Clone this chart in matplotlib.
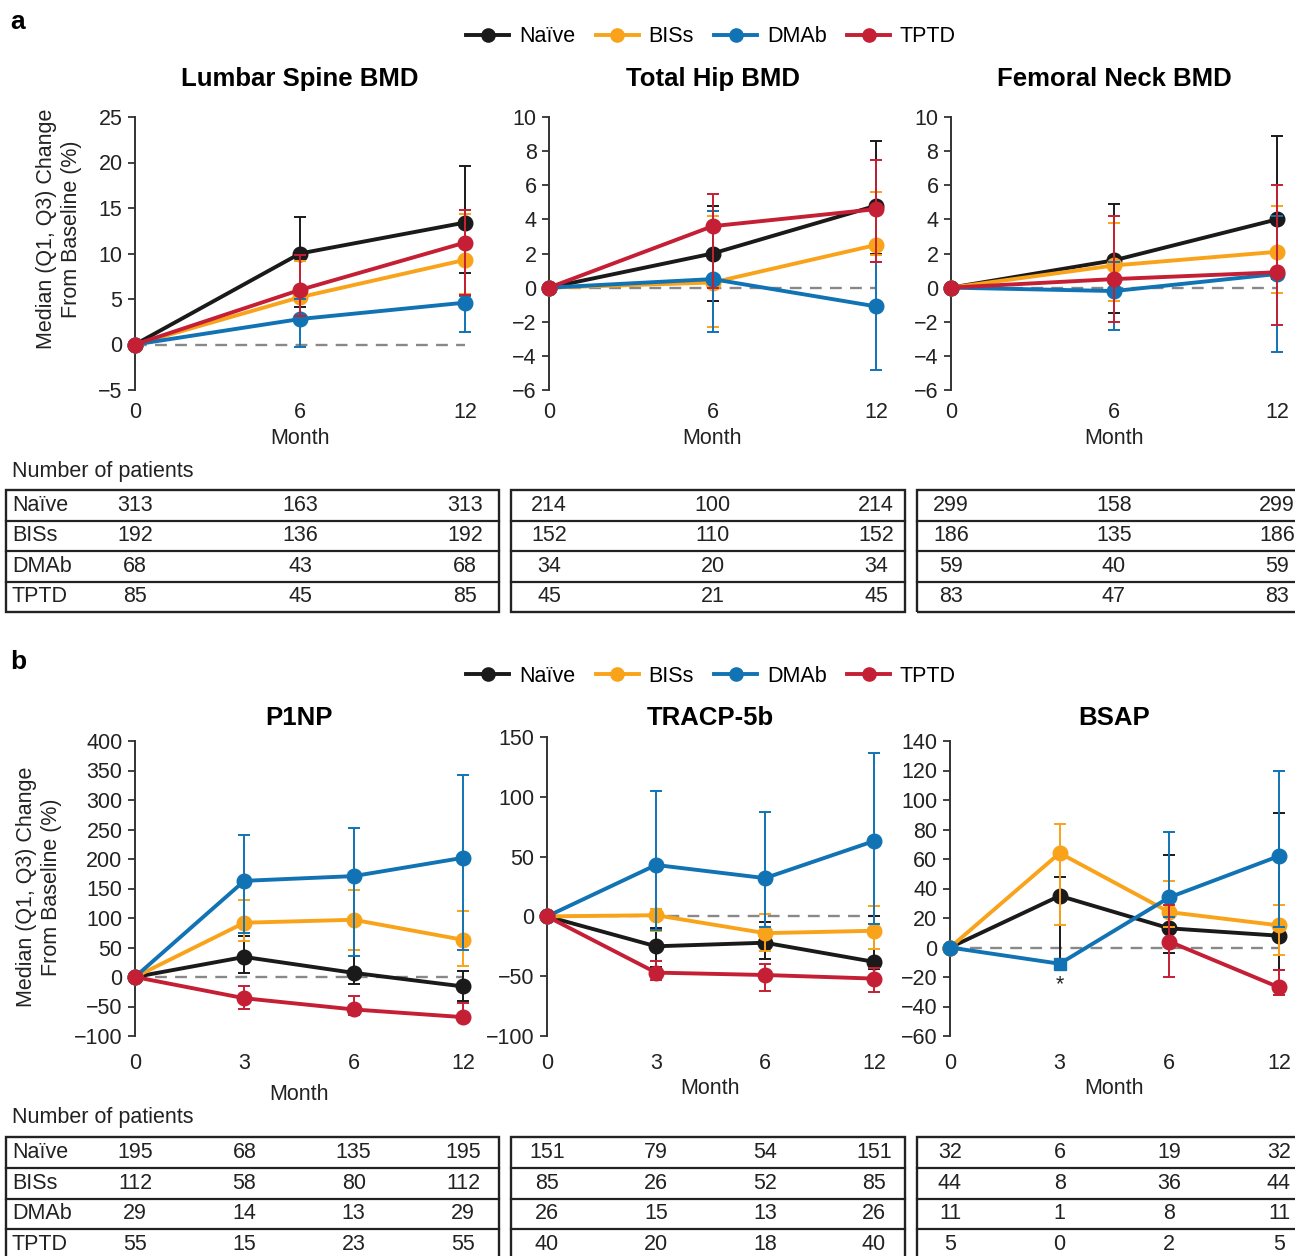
import numpy as np
import matplotlib
matplotlib.use("Agg")
import matplotlib.pyplot as plt
from matplotlib.lines import Line2D
from matplotlib.patches import Rectangle
import matplotlib.transforms as mtransforms

plt.rcParams['font.family'] = ['Liberation Sans', 'DejaVu Sans']
plt.rcParams['axes.unicode_minus'] = True

nan = np.nan

# ---------------- data ----------------
GROUPS = ["Naïve", "BISs", "DMAb", "TPTD"]
COLORS = ["#1a1a1a", "#f9a31b", "#1173b3", "#c41f34"]

BMD_MONTHS = ["0", "6", "12"]
BTM_MONTHS = ["0", "3", "6", "12"]

# Lumbar spine BMD (median, Q1, Q3), rows = groups
LS_MED = [[0, 10.0, 13.4], [0, 5.2, 9.3], [0, 2.8, 4.6], [0, 6.0, 11.2]]
LS_Q1 = [[nan, 4.1, 7.9], [nan, 3.0, 5.5], [nan, -0.3, 1.4], [nan, 3.1, 5.4]]
LS_Q3 = [[nan, 14.0, 19.6], [nan, 9.2, 14.3], [nan, 5.0, 5.3], [nan, 9.8, 14.8]]
LS_N = [[313, 163, 313], [192, 136, 192], [68, 43, 68], [85, 45, 85]]

# Total hip BMD
TH_MED = [[0, 2.0, 4.8], [0, 0.3, 2.5], [0, 0.5, -1.1], [0, 3.6, 4.6]]
TH_Q1 = [[nan, -0.8, 2.0], [nan, -2.3, 1.9], [nan, -2.6, -4.8], [nan, 0.0, 1.5]]
TH_Q3 = [[nan, 4.8, 8.6], [nan, 4.2, 5.6], [nan, 4.5, 1.5], [nan, 5.5, 7.5]]
TH_N = [[214, 100, 214], [152, 110, 152], [34, 20, 34], [45, 21, 45]]

# Femoral neck BMD
FN_MED = [[0, 1.6, 4.0], [0, 1.3, 2.1], [0, -0.2, 0.8], [0, 0.5, 0.9]]
FN_Q1 = [[nan, -1.5, 0.5], [nan, -0.8, -0.3], [nan, -2.5, -3.8], [nan, -2.0, -2.2]]
FN_Q3 = [[nan, 4.9, 8.9], [nan, 3.8, 4.8], [nan, 1.5, 4.2], [nan, 4.2, 6.0]]
FN_N = [[299, 158, 299], [186, 135, 186], [59, 40, 59], [83, 47, 83]]

# P1NP
P1_MED = [[0, 34, 7, -16], [0, 92, 97, 63], [0, 163, 171, 202], [0, -36, -55, -68]]
P1_Q1 = [[nan, 6, -12, -41], [nan, 61, 45, 19], [nan, 75, 36, 46], [nan, -55, -64, -74]]
P1_Q3 = [[nan, 69, 45, 10], [nan, 130, 147, 112], [nan, 241, 252, 343], [nan, -15, -33, -44]]
P1_N = [[195, 68, 135, 195], [112, 58, 80, 112], [29, 14, 13, 29], [55, 15, 23, 55]]

# TRACP-5b
TR_MED = [[0, -25, -22, -38], [0, 1, -14, -12], [0, 43, 32, 63], [0, -47, -49, -52]]
TR_Q1 = [[nan, -42, -36, -44], [nan, -12, -29, -27], [nan, -11, -9, -6], [nan, -53, -62, -63]]
TR_Q3 = [[nan, -10, -5, 0], [nan, 6, 2, 9], [nan, 105, 87, 137], [nan, -37, -40, -43]]
TR_N = [[151, 79, 54, 151], [85, 26, 52, 85], [26, 15, 13, 26], [40, 20, 18, 40]]

# BSAP
BS_MED = [[0, 35, 13, 8], [0, 64, 24, 15], [0, -11, 34, 62], [nan, nan, 4, -27]]
BS_Q1 = [[nan, -12, -4, -15], [nan, 15, 14, -5], [nan, nan, 21, 14], [nan, nan, -20, -32]]
BS_Q3 = [[nan, 48, 63, 91], [nan, 84, 45, 29], [nan, nan, 78, 120], [nan, nan, 29, -15]]
BS_N = [[32, 6, 19, 32], [44, 8, 36, 44], [11, 1, 8, 11], [5, 0, 2, 5]]

# ---------------- layout ----------------
W, H = 1295, 1256
fig = plt.figure(figsize=(W / 100, H / 100), dpi=100)
FS = 15.5
TXT = '#222222'


def make_ax(x0, xlast, top, bottom, npos, ylim, yticks):
    xmax = (npos - 1) * 1.04
    ax = fig.add_axes([x0 / W, 1 - bottom / H, 1.04 * (xlast - x0) / W, (bottom - top) / H])
    ax.set_xlim(0, xmax)
    ax.set_ylim(*ylim)
    ax.set_yticks(yticks)
    for s in ['top', 'right', 'bottom']:
        ax.spines[s].set_visible(False)
    ax.spines['left'].set_linewidth(1.4)
    ax.spines['left'].set_color('#333333')
    ax.tick_params(axis='y', direction='out', length=5, width=1.3, color='#333333',
                   labelsize=FS, pad=4, labelcolor=TXT)
    ax.tick_params(axis='x', length=0, labelsize=FS, labelcolor=TXT)
    ax.patch.set_alpha(0)
    return ax


def draw_series(ax, med, q1, q3, special=None):
    for gi, (m, lo, hi) in enumerate(zip(med, q1, q3)):
        c = COLORS[gi]
        x = np.arange(len(m))
        m = np.array(m, dtype=float)
        lo = np.array(lo, dtype=float)
        hi = np.array(hi, dtype=float)
        z = 3 + gi
        ok = ~np.isnan(lo) & ~np.isnan(hi) & ~np.isnan(m)
        if ok.any():
            ax.errorbar(x[ok], m[ok], yerr=[m[ok] - lo[ok], hi[ok] - m[ok]], fmt='none',
                        ecolor=c, elinewidth=1.4, capsize=4.5, capthick=1.4, zorder=z, clip_on=False)
        ax.plot(x, m, color=c, lw=2.8, zorder=z + 0.1, clip_on=False, solid_capstyle='round')
        for i in range(len(m)):
            if np.isnan(m[i]):
                continue
            if special is not None and special == (gi, i):
                ax.plot(x[i], m[i], marker='s', ms=8.5, color=c, zorder=z + 0.2, clip_on=False)
            else:
                ax.plot(x[i], m[i], marker='o', ms=10.5, color=c, zorder=z + 0.2, clip_on=False)


def zero_line(ax, npos):
    ax.plot([0, npos - 1], [0, 0], color='#888888', lw=1.7, ls=(0, (5, 3.5)), zorder=2)


def blended(ax):
    return mtransforms.blended_transform_factory(ax.transData, fig.transFigure)


def fy(px):
    return 1 - px / H


panels_top = [
    ("Lumbar Spine BMD", 135, 465, (-5, 25), np.arange(-5, 26, 5), LS_MED, LS_Q1, LS_Q3, LS_N),
    ("Total Hip BMD", 549, 876, (-6, 10), np.arange(-6, 11, 2), TH_MED, TH_Q1, TH_Q3, TH_N),
    ("Femoral Neck BMD", 951, 1277, (-6, 10), np.arange(-6, 11, 2), FN_MED, FN_Q1, FN_Q3, FN_N),
]
panels_bot = [
    ("P1NP", 135, 463, 741, (-100, 400), np.arange(-100, 401, 50), P1_MED, P1_Q1, P1_Q3, P1_N, 1094),
    ("TRACP-5b", 547, 874, 737, (-100, 150), np.arange(-100, 151, 50), TR_MED, TR_Q1, TR_Q3, TR_N, 1089),
    ("BSAP", 950, 1279, 741, (-60, 140), np.arange(-60, 141, 20), BS_MED, BS_Q1, BS_Q3, BS_N, 1089),
]

BOX_X = [(6, 499), (511, 905), (917, 1302)]
TOP_ROWS = [490, 520.5, 551, 581.5, 612]
BOT_ROWS = [1137, 1168, 1198.5, 1229, 1260]


def draw_table(ax, counts, box, rows, label):
    x0, x1 = box
    fig.add_artist(Rectangle((x0 / W, fy(rows[-1])), (x1 - x0) / W, (rows[-1] - rows[0]) / H,
                             transform=fig.transFigure, fill=False, lw=1.7, ec='#222222'))
    for r in rows[1:-1]:
        fig.add_artist(Line2D([x0 / W, x1 / W], [fy(r), fy(r)], transform=fig.transFigure,
                              lw=1.6, color='#222222'))
    tr = blended(ax)
    for gi, row in enumerate(counts):
        yc = fy((rows[gi] + rows[gi + 1]) / 2)
        if label:
            fig.text(12 / W, yc, GROUPS[gi], fontsize=FS, ha='left', va='center', color=TXT)
        for i, v in enumerate(row):
            ax.text(i, yc, str(v), transform=tr, fontsize=FS, ha='center', va='center',
                    color=TXT, clip_on=False)


# top panels
for k, (title, x0, xl, ylim, yt, med, q1, q3, n) in enumerate(panels_top):
    ax = make_ax(x0, xl, 117, 390, 3, ylim, yt)
    ax.set_xticks(range(3))
    ax.set_xticklabels(BMD_MONTHS)
    ax.tick_params(axis='x', pad=9)
    zero_line(ax, 3)
    draw_series(ax, med, q1, q3)
    ax.text(1, fy(79), title, transform=blended(ax), fontsize=18.5, fontweight='bold',
            ha='center', va='center')
    ax.text(1, fy(438), "Month", transform=blended(ax), fontsize=FS, ha='center', va='center',
            color=TXT)
    draw_table(ax, n, BOX_X[k], TOP_ROWS, k == 0)

# bottom panels
for k, (title, x0, xl, top, ylim, yt, med, q1, q3, n, my) in enumerate(panels_bot):
    ax = make_ax(x0, xl, top, 1036, 4, ylim, yt)
    ax.set_xticks(range(4))
    ax.set_xticklabels(BTM_MONTHS)
    ax.tick_params(axis='x', pad=12)
    zero_line(ax, 4)
    special = (2, 1) if title == "BSAP" else None
    draw_series(ax, med, q1, q3, special=special)
    if title == "BSAP":
        ax.text(1, -25, "*", fontsize=FS, ha='center', va='center', color=TXT)
    ax.text(1.5, fy(718), title, transform=blended(ax), fontsize=18.5, fontweight='bold',
            ha='center', va='center')
    ax.text(1.5, fy(my), "Month", transform=blended(ax), fontsize=FS, ha='center', va='center',
            color=TXT)
    draw_table(ax, n, BOX_X[k], BOT_ROWS, k == 0)

# y labels
ylab = "Median (Q1, Q3) Change\nFrom Baseline (%)"
fig.text(59 / W, fy(229), ylab, rotation=90, fontsize=FS, ha='center', va='center',
         multialignment='center', linespacing=1.2, color=TXT)
fig.text(39 / W, fy(887), ylab, rotation=90, fontsize=FS, ha='center', va='center',
         multialignment='center', linespacing=1.2, color=TXT)

# panel letters
fig.text(10 / W, fy(22), "a", fontsize=19, fontweight='bold', ha='left', va='center')
fig.text(10 / W, fy(662), "b", fontsize=19, fontweight='bold', ha='left', va='center')

# "Number of patients"
fig.text(12 / W, fy(472), "Number of patients", fontsize=FS, ha='left', va='center', color=TXT)
fig.text(12 / W, fy(1117), "Number of patients", fontsize=FS, ha='left', va='center', color=TXT)

# legends
handles = [Line2D([], [], color=c, lw=2.8, marker='o', ms=9.5) for c in COLORS]
for ly in (37, 676):
    fig.legend(handles, GROUPS, loc='center', bbox_to_anchor=(711 / W, fy(ly)), ncol=4,
               frameon=False, fontsize=FS, handlelength=2.0, handletextpad=0.45,
               columnspacing=0.95, borderpad=0)

fig.savefig("out.png", dpi=100)
